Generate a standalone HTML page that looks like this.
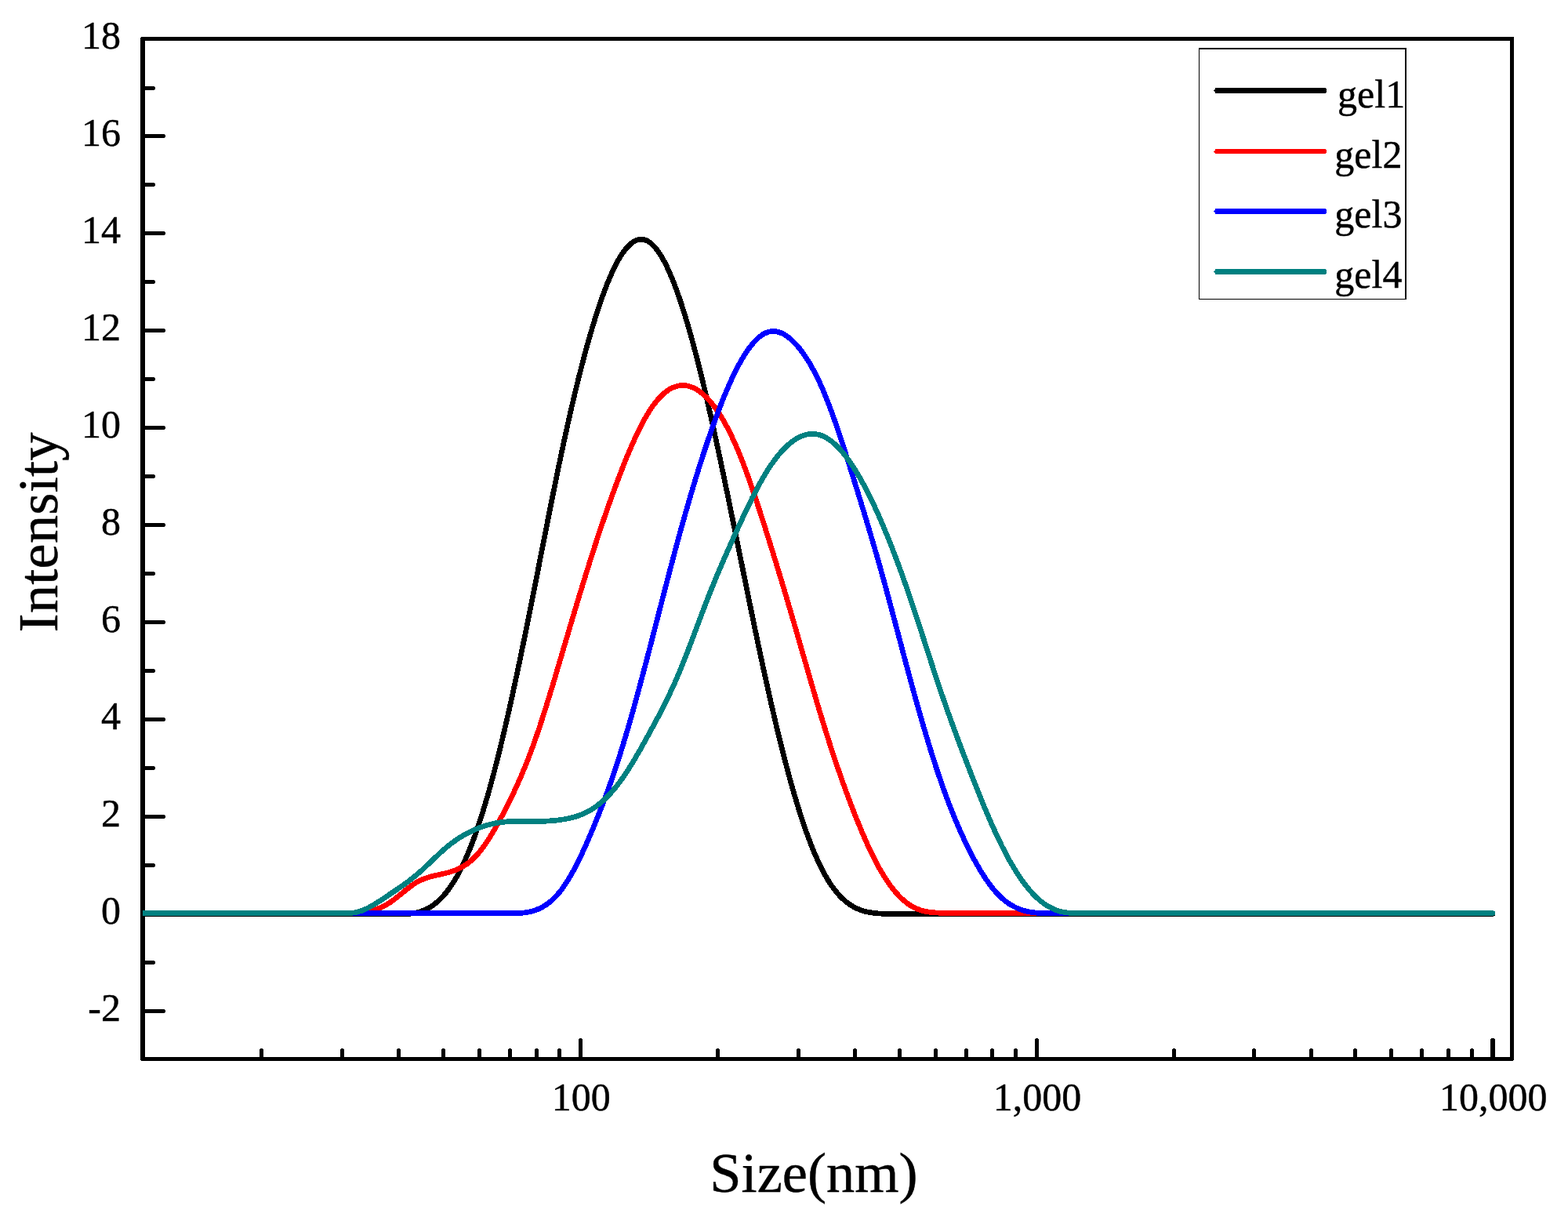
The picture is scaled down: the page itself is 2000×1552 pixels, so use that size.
<!DOCTYPE html>
<html lang="en"><head><meta charset="utf-8"><title>Size distribution by intensity</title>
<style>
html,body{margin:0;padding:0;background:#fff;}
body{width:2000px;height:1552px;overflow:hidden;}
svg{display:block;}
text{font-family:"Liberation Serif",serif;fill:#000;stroke:#000;stroke-width:0.45px;stroke-linejoin:round;}
.t{font-size:50px;}
.ttl{font-size:72.4px;}
</style></head><body>
<svg width="2000" height="1552" viewBox="0 0 2000 1552">
<rect x="0" y="0" width="2000" height="1552" fill="#fff"/>
<defs><clipPath id="plot"><rect x="182.0" y="47" width="1749.0" height="1306"/></clipPath></defs>
<g fill="#000" shape-rendering="crispEdges">
<path fill-rule="evenodd" d="M179 48H180V47H1931V1352H1930V1353H180V1352H179ZM185 52V1348H1926V52Z"/>
<path d="M184 1287H210V1288H211V1291H210V1292H184ZM184 1225H197V1226H198V1229H197V1230H184ZM184 1163H210V1164H211V1167H210V1168H184ZM184 1101H197V1102H198V1105H197V1106H184ZM184 1039H210V1040H211V1043H210V1044H184ZM184 977H197V978H198V981H197V982H184ZM184 915H210V916H211V919H210V920H184ZM184 853H197V854H198V857H197V858H184ZM184 791H210V792H211V795H210V796H184ZM184 729H197V730H198V733H197V734H184ZM184 667H210V668H211V671H210V672H184ZM184 605H197V606H198V609H197V610H184ZM184 543H210V544H211V547H210V548H184ZM184 481H197V482H198V485H197V486H184ZM184 419H210V420H211V423H210V424H184ZM184 357H197V358H198V361H197V362H184ZM184 295H210V296H211V299H210V300H184ZM184 233H197V234H198V237H197V238H184ZM184 171H210V172H211V175H210V176H184ZM184 110H197V111H198V114H197V115H184ZM331 1349V1338H332V1337H335V1338H336V1349ZM434 1349V1338H435V1337H438V1338H439V1349ZM506 1349V1338H507V1337H510V1338H511V1349ZM563 1349V1338H564V1337H567V1338H568V1349ZM609 1349V1338H610V1337H613V1338H614V1349ZM648 1349V1338H649V1337H652V1338H653V1349ZM682 1349V1338H683V1337H686V1338H687V1349ZM711 1349V1338H712V1337H715V1338H716V1349ZM738 1349V1325H739V1324H742V1325H743V1349ZM913 1349V1338H914V1337H917V1338H918V1349ZM1016 1349V1338H1017V1337H1020V1338H1021V1349ZM1088 1349V1338H1089V1337H1092V1338H1093V1349ZM1145 1349V1338H1146V1337H1149V1338H1150V1349ZM1191 1349V1338H1192V1337H1195V1338H1196V1349ZM1230 1349V1338H1231V1337H1234V1338H1235V1349ZM1263 1349V1338H1264V1337H1267V1338H1268V1349ZM1293 1349V1338H1294V1337H1297V1338H1298V1349ZM1320 1349V1325H1321V1324H1324V1325H1325V1349ZM1495 1349V1338H1496V1337H1499V1338H1500V1349ZM1597 1349V1338H1598V1337H1601V1338H1602V1349ZM1670 1349V1338H1671V1337H1674V1338H1675V1349ZM1726 1349V1338H1727V1337H1730V1338H1731V1349ZM1772 1349V1338H1773V1337H1776V1338H1777V1349ZM1811 1349V1338H1812V1337H1815V1338H1816V1349ZM1845 1349V1338H1846V1337H1849V1338H1850V1349ZM1875 1349V1338H1876V1337H1879V1338H1880V1349ZM1901 1349V1325H1902V1324H1906V1325H1907V1349Z"/>
</g>
<g fill="none" stroke-linejoin="round" stroke-linecap="round" shape-rendering="crispEdges" clip-path="url(#plot)">
<path d="M174 1165.5H423L423 1165.5L424 1165.4L425 1165.4L426 1165.4L427 1165.4L428 1165.4L429 1165.4L430 1165.4L431 1165.4L432 1165.4L433 1165.4L434 1165.4L435 1165.5L436 1165.5L437 1165.5L438 1165.5L439 1165.5L440 1165.5L441 1165.5L442 1165.5L443 1165.5L444 1165.5L445 1165.5L446 1165.5L447 1165.5L448 1165.5L449 1165.5L450 1165.5L451 1165.5L452 1165.5L453 1165.5L454 1165.5L455 1165.5L456 1165.5L457 1165.5L458 1165.5L459 1165.5L460 1165.5L461 1165.5L462 1165.5L463 1165.5L464 1165.5L465 1165.5L466 1165.5L467 1165.5L468 1165.5L469 1165.5L470 1165.5L471 1165.5L472 1165.5L473 1165.4L474 1165.4L475 1165.4L476 1165.4L477 1165.4L478 1165.4L479 1165.4L480 1165.4L481 1165.3L482 1165.3L483 1165.3L484 1165.3L485 1165.3L486 1165.3L487 1165.3L488 1165.3L489 1165.3L490 1165.3L491 1165.4L492 1165.4L493 1165.4L494 1165.4L495 1165.4L496 1165.5L497 1165.5L498 1165.5L499 1165.5L500 1165.5L501 1165.5L502 1165.5L503 1165.5L504 1165.5L505 1165.5L506 1165.5L507 1165.5L508 1165.5L509 1165.5L510 1165.5L511 1165.5L512 1165.5L513 1165.5L514 1165.5L515 1165.5L516 1165.5L517 1165.5L518 1165.5L519 1165.5L520 1165.5L521 1165.5L522 1165.4L523 1165.3L524 1165.1L525 1165.0L526 1164.9L527 1164.7L528 1164.5L529 1164.4L530 1164.2L531 1163.9L532 1163.7L533 1163.5L534 1163.2L535 1162.9L536 1162.6L537 1162.3L538 1161.9L539 1161.5L540 1161.1L541 1160.7L542 1160.3L543 1159.8L544 1159.4L545 1158.9L546 1158.3L547 1157.8L548 1157.2L549 1156.6L550 1156.0L551 1155.3L552 1154.6L553 1153.9L554 1153.2L555 1152.4L556 1151.6L557 1150.8L558 1149.9L559 1149.0L560 1148.1L561 1147.1L562 1146.2L563 1145.1L564 1144.1L565 1143.0L566 1141.9L567 1140.7L568 1139.5L569 1138.3L570 1137.0L571 1135.7L572 1134.4L573 1133.0L574 1131.6L575 1130.2L576 1128.7L577 1127.2L578 1125.6L579 1124.0L580 1122.3L581 1120.7L582 1118.9L583 1117.2L584 1115.4L585 1113.5L586 1111.6L587 1109.7L588 1107.7L589 1105.7L590 1103.7L591 1101.6L592 1099.5L593 1097.3L594 1095.1L595 1092.8L596 1090.5L597 1088.1L598 1085.7L599 1083.3L600 1080.8L601 1078.3L602 1075.7L603 1073.1L604 1070.4L605 1067.7L606 1064.9L607 1062.1L608 1059.2L609 1056.3L610 1053.4L611 1050.4L612 1047.3L613 1044.3L614 1041.1L615 1038.0L616 1034.7L617 1031.5L618 1028.2L619 1024.8L620 1021.5L621 1018.0L622 1014.6L623 1011.1L624 1007.5L625 1003.9L626 1000.3L627 996.6L628 992.9L629 989.2L630 985.4L631 981.6L632 977.7L633 973.8L634 969.9L635 965.9L636 961.9L637 957.9L638 953.8L639 949.7L640 945.6L641 941.4L642 937.2L643 933.0L644 928.7L645 924.4L646 920.1L647 915.7L648 911.3L649 906.9L650 902.5L651 898.0L652 893.5L653 889.0L654 884.4L655 879.8L656 875.2L657 870.6L658 865.9L659 861.2L660 856.5L661 851.8L662 847.0L663 842.3L664 837.5L665 832.7L666 827.9L667 823.0L668 818.1L669 813.3L670 808.4L671 803.4L672 798.5L673 793.6L674 788.6L675 783.6L676 778.6L677 773.6L678 768.6L679 763.6L680 758.6L681 753.5L682 748.5L683 743.4L684 738.3L685 733.3L686 728.2L687 723.1L688 718.0L689 712.9L690 707.8L691 702.7L692 697.6L693 692.6L694 687.5L695 682.4L696 677.3L697 672.3L698 667.2L699 662.1L700 657.1L701 652.1L702 647.1L703 642.1L704 637.1L705 632.1L706 627.1L707 622.2L708 617.3L709 612.4L710 607.5L711 602.6L712 597.8L713 593.0L714 588.2L715 583.4L716 578.7L717 574.0L718 569.3L719 564.6L720 560.0L721 555.4L722 550.9L723 546.3L724 541.8L725 537.4L726 533.0L727 528.5L728 524.2L729 519.8L730 515.5L731 511.3L732 507.0L733 502.8L734 498.7L735 494.5L736 490.4L737 486.4L738 482.3L739 478.3L740 474.4L741 470.5L742 466.6L743 462.7L744 458.9L745 455.1L746 451.4L747 447.7L748 444.0L749 440.4L750 436.8L751 433.3L752 429.8L753 426.3L754 422.9L755 419.5L756 416.1L757 412.8L758 409.6L759 406.3L760 403.1L761 400.0L762 396.9L763 393.8L764 390.8L765 387.9L766 384.9L767 382.1L768 379.2L769 376.5L770 373.7L771 371.0L772 368.4L773 365.8L774 363.2L775 360.7L776 358.3L777 355.9L778 353.5L779 351.2L780 349.0L781 346.8L782 344.6L783 342.5L784 340.5L785 338.5L786 336.6L787 334.7L788 332.9L789 331.1L790 329.4L791 327.7L792 326.1L793 324.6L794 323.1L795 321.7L796 320.3L797 319.0L798 317.7L799 316.5L800 315.4L801 314.3L802 313.3L803 312.3L804 311.4L805 310.6L806 309.8L807 309.1L808 308.4L809 307.8L810 307.3L811 306.8L812 306.4L813 306.0L814 305.8L815 305.5L816 305.4L817 305.3L818 305.3L819 305.3L820 305.4L821 305.6L822 305.8L823 306.1L824 306.5L825 306.9L826 307.4L827 308.0L828 308.6L829 309.3L830 310.1L831 310.9L832 311.8L833 312.8L834 313.8L835 314.9L836 316.1L837 317.3L838 318.6L839 319.9L840 321.4L841 322.8L842 324.4L843 326.0L844 327.6L845 329.4L846 331.2L847 333.0L848 334.9L849 336.9L850 338.9L851 341.0L852 343.1L853 345.3L854 347.5L855 349.8L856 352.2L857 354.6L858 357.0L859 359.5L860 362.1L861 364.7L862 367.4L863 370.1L864 372.9L865 375.7L866 378.6L867 381.5L868 384.5L869 387.5L870 390.6L871 393.7L872 396.9L873 400.1L874 403.3L875 406.6L876 409.9L877 413.3L878 416.8L879 420.2L880 423.7L881 427.3L882 430.9L883 434.5L884 438.2L885 441.9L886 445.7L887 449.5L888 453.3L889 457.2L890 461.1L891 465.0L892 469.0L893 473.0L894 477.0L895 481.1L896 485.2L897 489.4L898 493.6L899 497.8L900 502.0L901 506.3L902 510.6L903 514.9L904 519.3L905 523.7L906 528.1L907 532.5L908 537.0L909 541.5L910 546.0L911 550.6L912 555.1L913 559.7L914 564.3L915 569.0L916 573.6L917 578.3L918 583.0L919 587.7L920 592.4L921 597.2L922 601.9L923 606.7L924 611.5L925 616.3L926 621.1L927 626.0L928 630.8L929 635.6L930 640.5L931 645.4L932 650.3L933 655.2L934 660.1L935 665.0L936 669.9L937 674.8L938 679.7L939 684.6L940 689.5L941 694.5L942 699.4L943 704.3L944 709.3L945 714.2L946 719.1L947 724.0L948 729.0L949 733.9L950 738.8L951 743.7L952 748.6L953 753.5L954 758.4L955 763.3L956 768.2L957 773.1L958 777.9L959 782.8L960 787.6L961 792.4L962 797.3L963 802.1L964 806.8L965 811.6L966 816.4L967 821.1L968 825.9L969 830.6L970 835.3L971 839.9L972 844.6L973 849.2L974 853.8L975 858.4L976 863.0L977 867.6L978 872.1L979 876.6L980 881.1L981 885.5L982 890.0L983 894.4L984 898.8L985 903.1L986 907.4L987 911.7L988 916.0L989 920.3L990 924.5L991 928.7L992 932.8L993 937.0L994 941.1L995 945.1L996 949.2L997 953.2L998 957.1L999 961.1L1000 965.0L1001 968.9L1002 972.7L1003 976.5L1004 980.3L1005 984.0L1006 987.8L1007 991.4L1008 995.1L1009 998.7L1010 1002.2L1011 1005.7L1012 1009.2L1013 1012.7L1014 1016.1L1015 1019.4L1016 1022.8L1017 1026.1L1018 1029.3L1019 1032.5L1020 1035.7L1021 1038.8L1022 1041.9L1023 1045.0L1024 1048.0L1025 1051.0L1026 1053.9L1027 1056.8L1028 1059.6L1029 1062.4L1030 1065.2L1031 1067.9L1032 1070.6L1033 1073.2L1034 1075.8L1035 1078.4L1036 1080.9L1037 1083.4L1038 1085.8L1039 1088.2L1040 1090.5L1041 1092.8L1042 1095.1L1043 1097.3L1044 1099.5L1045 1101.6L1046 1103.7L1047 1105.8L1048 1107.8L1049 1109.7L1050 1111.6L1051 1113.5L1052 1115.3L1053 1117.1L1054 1118.8L1055 1120.5L1056 1122.2L1057 1123.8L1058 1125.4L1059 1126.9L1060 1128.4L1061 1129.8L1062 1131.2L1063 1132.6L1064 1133.9L1065 1135.2L1066 1136.5L1067 1137.7L1068 1138.9L1069 1140.1L1070 1141.2L1071 1142.3L1072 1143.3L1073 1144.3L1074 1145.3L1075 1146.3L1076 1147.2L1077 1148.1L1078 1149.0L1079 1149.8L1080 1150.6L1081 1151.4L1082 1152.1L1083 1152.8L1084 1153.5L1085 1154.2L1086 1154.8L1087 1155.4L1088 1156.0L1089 1156.6L1090 1157.1L1091 1157.6L1092 1158.1L1093 1158.6L1094 1159.0L1095 1159.4L1096 1159.8L1097 1160.2L1098 1160.6L1099 1160.9L1100 1161.3L1101 1161.6L1102 1161.9L1103 1162.2L1104 1162.4L1105 1162.7L1106 1162.9L1107 1163.1L1108 1163.3L1109 1163.5L1110 1163.7L1111 1163.8L1112 1164.0L1113 1164.1L1114 1164.3L1115 1164.4L1116 1164.5L1117 1164.6L1118 1164.7L1119 1164.8L1120 1164.9L1121 1164.9L1122 1165.0L1123 1165.0L1124 1165.1L1125 1165.2L1126 1165.2L1127 1165.2L1128 1165.3L1129 1165.3L1130 1165.4L1131 1165.4L1132 1165.4L1133 1165.4L1134 1165.5H1903.7" stroke="#000" stroke-width="6.7"/>
<path d="M174 1164.5H402L402 1164.5L403 1164.4L404 1164.4L405 1164.4L406 1164.4L407 1164.4L408 1164.4L409 1164.4L410 1164.4L411 1164.4L412 1164.4L413 1164.4L414 1164.4L415 1164.4L416 1164.4L417 1164.4L418 1164.4L419 1164.4L420 1164.5L421 1164.5L422 1164.5L423 1164.5L424 1164.5L425 1164.5L426 1164.5L427 1164.5L428 1164.5L429 1164.5L430 1164.5L431 1164.5L432 1164.5L433 1164.5L434 1164.5L435 1164.5L436 1164.5L437 1164.5L438 1164.5L439 1164.5L440 1164.5L441 1164.5L442 1164.5L443 1164.5L444 1164.5L445 1164.5L446 1164.5L447 1164.5L448 1164.5L449 1164.4L450 1164.4L451 1164.3L452 1164.3L453 1164.2L454 1164.2L455 1164.1L456 1164.0L457 1164.0L458 1163.9L459 1163.8L460 1163.7L461 1163.6L462 1163.5L463 1163.3L464 1163.2L465 1163.1L466 1162.9L467 1162.8L468 1162.6L469 1162.4L470 1162.2L471 1162.0L472 1161.8L473 1161.6L474 1161.3L475 1161.1L476 1160.8L477 1160.5L478 1160.2L479 1159.9L480 1159.6L481 1159.2L482 1158.9L483 1158.5L484 1158.1L485 1157.7L486 1157.3L487 1156.8L488 1156.3L489 1155.8L490 1155.3L491 1154.8L492 1154.3L493 1153.7L494 1153.1L495 1152.5L496 1151.9L497 1151.2L498 1150.5L499 1149.8L500 1149.1L501 1148.4L502 1147.7L503 1146.9L504 1146.1L505 1145.4L506 1144.6L507 1143.8L508 1143.0L509 1142.2L510 1141.4L511 1140.5L512 1139.7L513 1138.9L514 1138.1L515 1137.3L516 1136.5L517 1135.6L518 1134.8L519 1134.0L520 1133.3L521 1132.5L522 1131.7L523 1131.0L524 1130.2L525 1129.5L526 1128.8L527 1128.1L528 1127.4L529 1126.8L530 1126.1L531 1125.5L532 1124.9L533 1124.4L534 1123.8L535 1123.3L536 1122.8L537 1122.3L538 1121.9L539 1121.5L540 1121.1L541 1120.7L542 1120.3L543 1119.9L544 1119.6L545 1119.2L546 1118.9L547 1118.6L548 1118.3L549 1118.0L550 1117.8L551 1117.5L552 1117.3L553 1117.0L554 1116.8L555 1116.5L556 1116.3L557 1116.1L558 1115.9L559 1115.6L560 1115.4L561 1115.2L562 1115.0L563 1114.8L564 1114.5L565 1114.3L566 1114.1L567 1113.9L568 1113.6L569 1113.4L570 1113.1L571 1112.9L572 1112.6L573 1112.3L574 1112.0L575 1111.7L576 1111.4L577 1111.1L578 1110.7L579 1110.4L580 1110.0L581 1109.6L582 1109.2L583 1108.8L584 1108.4L585 1107.9L586 1107.4L587 1106.9L588 1106.4L589 1105.9L590 1105.3L591 1104.7L592 1104.1L593 1103.5L594 1102.8L595 1102.2L596 1101.5L597 1100.7L598 1100.0L599 1099.2L600 1098.3L601 1097.5L602 1096.6L603 1095.7L604 1094.7L605 1093.7L606 1092.7L607 1091.7L608 1090.6L609 1089.5L610 1088.3L611 1087.1L612 1085.9L613 1084.6L614 1083.4L615 1082.0L616 1080.7L617 1079.3L618 1077.9L619 1076.5L620 1075.0L621 1073.6L622 1072.0L623 1070.5L624 1068.9L625 1067.4L626 1065.7L627 1064.1L628 1062.5L629 1060.8L630 1059.1L631 1057.4L632 1055.6L633 1053.9L634 1052.1L635 1050.3L636 1048.5L637 1046.7L638 1044.8L639 1042.9L640 1041.1L641 1039.2L642 1037.3L643 1035.3L644 1033.4L645 1031.5L646 1029.5L647 1027.5L648 1025.5L649 1023.5L650 1021.5L651 1019.5L652 1017.4L653 1015.3L654 1013.3L655 1011.1L656 1009.0L657 1006.9L658 1004.7L659 1002.5L660 1000.3L661 998.1L662 995.8L663 993.5L664 991.2L665 988.9L666 986.6L667 984.2L668 981.8L669 979.4L670 976.9L671 974.4L672 971.9L673 969.4L674 966.8L675 964.2L676 961.6L677 959.0L678 956.3L679 953.6L680 950.8L681 948.0L682 945.2L683 942.4L684 939.5L685 936.6L686 933.6L687 930.7L688 927.7L689 924.7L690 921.6L691 918.5L692 915.5L693 912.3L694 909.2L695 906.1L696 902.9L697 899.7L698 896.5L699 893.2L700 890.0L701 886.7L702 883.5L703 880.2L704 876.9L705 873.6L706 870.2L707 866.9L708 863.6L709 860.2L710 856.9L711 853.5L712 850.1L713 846.7L714 843.4L715 840.0L716 836.6L717 833.2L718 829.8L719 826.5L720 823.1L721 819.7L722 816.3L723 813.0L724 809.6L725 806.2L726 802.8L727 799.5L728 796.1L729 792.8L730 789.4L731 786.1L732 782.7L733 779.4L734 776.1L735 772.7L736 769.4L737 766.1L738 762.8L739 759.5L740 756.2L741 752.9L742 749.7L743 746.4L744 743.1L745 739.9L746 736.6L747 733.4L748 730.2L749 727.0L750 723.8L751 720.6L752 717.4L753 714.3L754 711.1L755 708.0L756 704.9L757 701.8L758 698.7L759 695.6L760 692.5L761 689.4L762 686.4L763 683.4L764 680.4L765 677.4L766 674.4L767 671.4L768 668.4L769 665.5L770 662.5L771 659.6L772 656.7L773 653.8L774 651.0L775 648.1L776 645.3L777 642.4L778 639.6L779 636.8L780 634.0L781 631.3L782 628.5L783 625.8L784 623.1L785 620.3L786 617.7L787 615.0L788 612.3L789 609.7L790 607.1L791 604.5L792 601.9L793 599.3L794 596.7L795 594.2L796 591.7L797 589.2L798 586.7L799 584.2L800 581.8L801 579.4L802 577.0L803 574.6L804 572.3L805 570.0L806 567.7L807 565.4L808 563.2L809 560.9L810 558.7L811 556.6L812 554.4L813 552.3L814 550.3L815 548.2L816 546.2L817 544.2L818 542.3L819 540.3L820 538.5L821 536.6L822 534.8L823 533.0L824 531.3L825 529.6L826 527.9L827 526.2L828 524.6L829 523.1L830 521.6L831 520.1L832 518.6L833 517.2L834 515.9L835 514.6L836 513.3L837 512.0L838 510.8L839 509.6L840 508.5L841 507.4L842 506.3L843 505.3L844 504.3L845 503.4L846 502.5L847 501.6L848 500.8L849 500.0L850 499.2L851 498.5L852 497.8L853 497.1L854 496.5L855 495.9L856 495.4L857 494.9L858 494.4L859 494.0L860 493.6L861 493.2L862 492.9L863 492.6L864 492.3L865 492.1L866 491.9L867 491.8L868 491.6L869 491.6L870 491.5L871 491.5L872 491.5L873 491.6L874 491.7L875 491.8L876 491.9L877 492.1L878 492.3L879 492.6L880 492.9L881 493.2L882 493.6L883 494.0L884 494.4L885 494.9L886 495.4L887 495.9L888 496.4L889 497.0L890 497.7L891 498.3L892 499.0L893 499.7L894 500.5L895 501.3L896 502.1L897 503.0L898 503.9L899 504.8L900 505.7L901 506.7L902 507.7L903 508.8L904 509.9L905 511.0L906 512.1L907 513.3L908 514.5L909 515.8L910 517.1L911 518.4L912 519.7L913 521.1L914 522.5L915 523.9L916 525.4L917 526.9L918 528.5L919 530.1L920 531.7L921 533.3L922 535.0L923 536.7L924 538.5L925 540.3L926 542.1L927 543.9L928 545.8L929 547.8L930 549.7L931 551.7L932 553.8L933 555.8L934 557.9L935 560.1L936 562.2L937 564.5L938 566.7L939 569.0L940 571.3L941 573.7L942 576.1L943 578.5L944 581.0L945 583.5L946 586.0L947 588.6L948 591.2L949 593.8L950 596.5L951 599.1L952 601.9L953 604.6L954 607.4L955 610.2L956 613.0L957 615.8L958 618.7L959 621.6L960 624.5L961 627.4L962 630.4L963 633.3L964 636.3L965 639.3L966 642.3L967 645.4L968 648.4L969 651.5L970 654.6L971 657.7L972 660.8L973 663.9L974 667.1L975 670.2L976 673.4L977 676.5L978 679.7L979 682.9L980 686.1L981 689.3L982 692.5L983 695.7L984 698.9L985 702.1L986 705.3L987 708.6L988 711.8L989 715.1L990 718.3L991 721.6L992 724.9L993 728.2L994 731.5L995 734.8L996 738.1L997 741.4L998 744.7L999 748.0L1000 751.4L1001 754.7L1002 758.1L1003 761.4L1004 764.8L1005 768.2L1006 771.5L1007 774.9L1008 778.3L1009 781.7L1010 785.1L1011 788.5L1012 792.0L1013 795.4L1014 798.8L1015 802.3L1016 805.7L1017 809.2L1018 812.7L1019 816.1L1020 819.6L1021 823.1L1022 826.5L1023 830.0L1024 833.5L1025 837.0L1026 840.4L1027 843.9L1028 847.4L1029 850.9L1030 854.3L1031 857.8L1032 861.3L1033 864.7L1034 868.2L1035 871.6L1036 875.0L1037 878.5L1038 881.9L1039 885.3L1040 888.7L1041 892.1L1042 895.5L1043 898.8L1044 902.2L1045 905.5L1046 908.9L1047 912.2L1048 915.5L1049 918.7L1050 922.0L1051 925.2L1052 928.5L1053 931.7L1054 934.9L1055 938.0L1056 941.2L1057 944.3L1058 947.5L1059 950.6L1060 953.6L1061 956.7L1062 959.7L1063 962.8L1064 965.8L1065 968.8L1066 971.7L1067 974.7L1068 977.6L1069 980.6L1070 983.5L1071 986.3L1072 989.2L1073 992.1L1074 994.9L1075 997.7L1076 1000.5L1077 1003.3L1078 1006.0L1079 1008.8L1080 1011.5L1081 1014.2L1082 1016.9L1083 1019.6L1084 1022.2L1085 1024.9L1086 1027.5L1087 1030.1L1088 1032.7L1089 1035.2L1090 1037.8L1091 1040.3L1092 1042.8L1093 1045.3L1094 1047.8L1095 1050.2L1096 1052.7L1097 1055.1L1098 1057.5L1099 1059.9L1100 1062.2L1101 1064.5L1102 1066.9L1103 1069.1L1104 1071.4L1105 1073.6L1106 1075.9L1107 1078.1L1108 1080.2L1109 1082.4L1110 1084.5L1111 1086.6L1112 1088.7L1113 1090.7L1114 1092.7L1115 1094.7L1116 1096.7L1117 1098.6L1118 1100.5L1119 1102.4L1120 1104.2L1121 1106.1L1122 1107.9L1123 1109.6L1124 1111.3L1125 1113.0L1126 1114.7L1127 1116.4L1128 1118.0L1129 1119.6L1130 1121.1L1131 1122.6L1132 1124.1L1133 1125.6L1134 1127.0L1135 1128.4L1136 1129.8L1137 1131.1L1138 1132.4L1139 1133.7L1140 1134.9L1141 1136.2L1142 1137.3L1143 1138.5L1144 1139.6L1145 1140.7L1146 1141.8L1147 1142.9L1148 1143.9L1149 1144.9L1150 1145.8L1151 1146.7L1152 1147.6L1153 1148.5L1154 1149.4L1155 1150.2L1156 1151.0L1157 1151.7L1158 1152.5L1159 1153.2L1160 1153.8L1161 1154.5L1162 1155.1L1163 1155.7L1164 1156.3L1165 1156.8L1166 1157.3L1167 1157.8L1168 1158.3L1169 1158.7L1170 1159.1L1171 1159.5L1172 1159.9L1173 1160.3L1174 1160.6L1175 1160.9L1176 1161.2L1177 1161.5L1178 1161.7L1179 1162.0L1180 1162.2L1181 1162.4L1182 1162.6L1183 1162.8L1184 1162.9L1185 1163.1L1186 1163.2L1187 1163.4L1188 1163.5L1189 1163.6L1190 1163.7L1191 1163.8L1192 1163.8L1193 1163.9L1194 1164.0L1195 1164.0L1196 1164.1L1197 1164.1L1198 1164.2L1199 1164.2L1200 1164.3L1201 1164.3L1202 1164.3L1203 1164.4L1204 1164.4L1205 1164.4L1206 1164.4L1207 1164.4L1208 1164.5H1903.7" stroke="#f00" stroke-width="6.7"/>
<path d="M174 1164.5H623L623 1164.5L624 1164.4L625 1164.4L626 1164.4L627 1164.4L628 1164.4L629 1164.4L630 1164.4L631 1164.4L632 1164.4L633 1164.4L634 1164.4L635 1164.4L636 1164.4L637 1164.5L638 1164.5L639 1164.5L640 1164.5L641 1164.5L642 1164.5L643 1164.5L644 1164.5L645 1164.5L646 1164.5L647 1164.5L648 1164.5L649 1164.5L650 1164.5L651 1164.5L652 1164.5L653 1164.5L654 1164.5L655 1164.5L656 1164.5L657 1164.5L658 1164.5L659 1164.5L660 1164.5L661 1164.5L662 1164.5L663 1164.4L664 1164.3L665 1164.3L666 1164.2L667 1164.1L668 1164.0L669 1163.9L670 1163.7L671 1163.6L672 1163.4L673 1163.3L674 1163.1L675 1162.9L676 1162.7L677 1162.4L678 1162.2L679 1161.9L680 1161.6L681 1161.3L682 1161.0L683 1160.6L684 1160.3L685 1159.9L686 1159.5L687 1159.1L688 1158.6L689 1158.1L690 1157.7L691 1157.1L692 1156.6L693 1156.0L694 1155.4L695 1154.8L696 1154.2L697 1153.5L698 1152.8L699 1152.1L700 1151.3L701 1150.5L702 1149.7L703 1148.8L704 1148.0L705 1147.1L706 1146.1L707 1145.1L708 1144.1L709 1143.1L710 1142.0L711 1140.9L712 1139.7L713 1138.6L714 1137.3L715 1136.1L716 1134.8L717 1133.5L718 1132.1L719 1130.7L720 1129.2L721 1127.7L722 1126.2L723 1124.7L724 1123.1L725 1121.4L726 1119.8L727 1118.1L728 1116.4L729 1114.6L730 1112.8L731 1111.0L732 1109.1L733 1107.3L734 1105.3L735 1103.4L736 1101.4L737 1099.4L738 1097.4L739 1095.4L740 1093.3L741 1091.2L742 1089.1L743 1087.0L744 1084.8L745 1082.6L746 1080.4L747 1078.2L748 1075.9L749 1073.7L750 1071.4L751 1069.1L752 1066.8L753 1064.5L754 1062.1L755 1059.7L756 1057.4L757 1055.0L758 1052.6L759 1050.1L760 1047.7L761 1045.2L762 1042.8L763 1040.3L764 1037.8L765 1035.2L766 1032.7L767 1030.1L768 1027.5L769 1024.9L770 1022.3L771 1019.6L772 1017.0L773 1014.3L774 1011.6L775 1008.8L776 1006.1L777 1003.3L778 1000.5L779 997.6L780 994.8L781 991.9L782 989.0L783 986.1L784 983.1L785 980.1L786 977.1L787 974.1L788 971.0L789 967.9L790 964.8L791 961.7L792 958.5L793 955.3L794 952.0L795 948.8L796 945.5L797 942.2L798 938.8L799 935.4L800 932.0L801 928.6L802 925.2L803 921.7L804 918.2L805 914.7L806 911.2L807 907.6L808 904.1L809 900.5L810 896.9L811 893.2L812 889.6L813 885.9L814 882.3L815 878.6L816 874.9L817 871.1L818 867.4L819 863.6L820 859.9L821 856.1L822 852.3L823 848.5L824 844.7L825 840.9L826 837.1L827 833.3L828 829.4L829 825.6L830 821.7L831 817.9L832 814.0L833 810.1L834 806.3L835 802.4L836 798.5L837 794.7L838 790.8L839 786.9L840 783.0L841 779.1L842 775.3L843 771.4L844 767.5L845 763.6L846 759.8L847 755.9L848 752.1L849 748.2L850 744.4L851 740.5L852 736.7L853 732.9L854 729.1L855 725.3L856 721.5L857 717.7L858 713.9L859 710.2L860 706.4L861 702.7L862 699.0L863 695.2L864 691.6L865 687.9L866 684.2L867 680.6L868 676.9L869 673.3L870 669.7L871 666.2L872 662.6L873 659.1L874 655.5L875 652.0L876 648.6L877 645.1L878 641.6L879 638.2L880 634.8L881 631.4L882 628.0L883 624.6L884 621.3L885 618.0L886 614.7L887 611.4L888 608.1L889 604.9L890 601.6L891 598.4L892 595.3L893 592.1L894 588.9L895 585.8L896 582.7L897 579.6L898 576.5L899 573.5L900 570.5L901 567.5L902 564.5L903 561.5L904 558.6L905 555.7L906 552.8L907 549.9L908 547.0L909 544.2L910 541.4L911 538.6L912 535.9L913 533.1L914 530.4L915 527.8L916 525.1L917 522.5L918 519.9L919 517.3L920 514.7L921 512.2L922 509.7L923 507.2L924 504.8L925 502.4L926 500.0L927 497.6L928 495.3L929 493.0L930 490.7L931 488.5L932 486.3L933 484.1L934 481.9L935 479.8L936 477.8L937 475.7L938 473.7L939 471.7L940 469.7L941 467.8L942 465.9L943 464.1L944 462.3L945 460.5L946 458.8L947 457.1L948 455.4L949 453.7L950 452.2L951 450.6L952 449.1L953 447.6L954 446.1L955 444.7L956 443.4L957 442.0L958 440.8L959 439.5L960 438.3L961 437.1L962 436.0L963 434.9L964 433.9L965 432.9L966 431.9L967 431.0L968 430.2L969 429.4L970 428.6L971 427.9L972 427.2L973 426.5L974 425.9L975 425.4L976 424.9L977 424.5L978 424.1L979 423.7L980 423.4L981 423.1L982 422.9L983 422.7L984 422.6L985 422.5L986 422.5L987 422.5L988 422.6L989 422.7L990 422.8L991 423.0L992 423.2L993 423.5L994 423.8L995 424.1L996 424.5L997 424.9L998 425.4L999 425.9L1000 426.5L1001 427.0L1002 427.7L1003 428.3L1004 429.0L1005 429.7L1006 430.5L1007 431.3L1008 432.1L1009 433.0L1010 433.9L1011 434.8L1012 435.8L1013 436.8L1014 437.8L1015 438.9L1016 440.0L1017 441.1L1018 442.3L1019 443.5L1020 444.7L1021 446.0L1022 447.3L1023 448.6L1024 450.0L1025 451.4L1026 452.8L1027 454.3L1028 455.8L1029 457.3L1030 458.9L1031 460.5L1032 462.1L1033 463.8L1034 465.5L1035 467.3L1036 469.1L1037 470.9L1038 472.8L1039 474.7L1040 476.6L1041 478.6L1042 480.6L1043 482.6L1044 484.7L1045 486.9L1046 489.0L1047 491.2L1048 493.5L1049 495.8L1050 498.1L1051 500.5L1052 502.9L1053 505.3L1054 507.8L1055 510.3L1056 512.9L1057 515.5L1058 518.1L1059 520.8L1060 523.5L1061 526.2L1062 529.0L1063 531.7L1064 534.6L1065 537.4L1066 540.3L1067 543.2L1068 546.1L1069 549.0L1070 552.0L1071 555.0L1072 558.0L1073 561.0L1074 564.1L1075 567.1L1076 570.2L1077 573.3L1078 576.4L1079 579.5L1080 582.7L1081 585.8L1082 589.0L1083 592.1L1084 595.3L1085 598.5L1086 601.7L1087 604.9L1088 608.1L1089 611.3L1090 614.5L1091 617.7L1092 620.9L1093 624.2L1094 627.4L1095 630.6L1096 633.9L1097 637.1L1098 640.4L1099 643.6L1100 646.9L1101 650.2L1102 653.4L1103 656.7L1104 660.0L1105 663.3L1106 666.7L1107 670.0L1108 673.3L1109 676.7L1110 680.0L1111 683.4L1112 686.8L1113 690.2L1114 693.6L1115 697.0L1116 700.5L1117 703.9L1118 707.4L1119 710.9L1120 714.4L1121 717.9L1122 721.4L1123 724.9L1124 728.5L1125 732.1L1126 735.7L1127 739.3L1128 742.9L1129 746.5L1130 750.2L1131 753.9L1132 757.6L1133 761.3L1134 765.0L1135 768.7L1136 772.4L1137 776.1L1138 779.9L1139 783.6L1140 787.4L1141 791.1L1142 794.9L1143 798.7L1144 802.4L1145 806.2L1146 810.0L1147 813.8L1148 817.5L1149 821.3L1150 825.1L1151 828.8L1152 832.6L1153 836.4L1154 840.1L1155 843.9L1156 847.6L1157 851.3L1158 855.0L1159 858.8L1160 862.5L1161 866.1L1162 869.8L1163 873.5L1164 877.1L1165 880.8L1166 884.4L1167 888.0L1168 891.6L1169 895.2L1170 898.7L1171 902.3L1172 905.8L1173 909.3L1174 912.8L1175 916.3L1176 919.7L1177 923.2L1178 926.6L1179 930.0L1180 933.4L1181 936.7L1182 940.1L1183 943.4L1184 946.7L1185 950.0L1186 953.2L1187 956.5L1188 959.7L1189 962.9L1190 966.0L1191 969.2L1192 972.3L1193 975.3L1194 978.4L1195 981.4L1196 984.5L1197 987.4L1198 990.4L1199 993.3L1200 996.2L1201 999.1L1202 1002.0L1203 1004.8L1204 1007.6L1205 1010.3L1206 1013.1L1207 1015.8L1208 1018.5L1209 1021.1L1210 1023.8L1211 1026.4L1212 1028.9L1213 1031.5L1214 1034.0L1215 1036.5L1216 1039.0L1217 1041.5L1218 1043.9L1219 1046.3L1220 1048.7L1221 1051.0L1222 1053.3L1223 1055.7L1224 1057.9L1225 1060.2L1226 1062.4L1227 1064.6L1228 1066.8L1229 1069.0L1230 1071.1L1231 1073.2L1232 1075.3L1233 1077.4L1234 1079.5L1235 1081.5L1236 1083.5L1237 1085.5L1238 1087.4L1239 1089.4L1240 1091.3L1241 1093.2L1242 1095.1L1243 1096.9L1244 1098.7L1245 1100.5L1246 1102.3L1247 1104.1L1248 1105.8L1249 1107.5L1250 1109.2L1251 1110.9L1252 1112.5L1253 1114.1L1254 1115.7L1255 1117.2L1256 1118.8L1257 1120.3L1258 1121.8L1259 1123.2L1260 1124.6L1261 1126.0L1262 1127.4L1263 1128.7L1264 1130.1L1265 1131.3L1266 1132.6L1267 1133.8L1268 1135.0L1269 1136.2L1270 1137.4L1271 1138.5L1272 1139.6L1273 1140.6L1274 1141.6L1275 1142.6L1276 1143.6L1277 1144.6L1278 1145.5L1279 1146.4L1280 1147.2L1281 1148.0L1282 1148.8L1283 1149.6L1284 1150.4L1285 1151.1L1286 1151.8L1287 1152.5L1288 1153.1L1289 1153.7L1290 1154.4L1291 1154.9L1292 1155.5L1293 1156.0L1294 1156.5L1295 1157.0L1296 1157.5L1297 1158.0L1298 1158.4L1299 1158.8L1300 1159.2L1301 1159.6L1302 1160.0L1303 1160.3L1304 1160.6L1305 1160.9L1306 1161.2L1307 1161.5L1308 1161.8L1309 1162.0L1310 1162.3L1311 1162.5L1312 1162.7L1313 1162.9L1314 1163.1L1315 1163.2L1316 1163.4L1317 1163.5L1318 1163.7L1319 1163.8L1320 1163.9L1321 1164.0L1322 1164.1L1323 1164.2L1324 1164.2L1325 1164.3L1326 1164.4L1327 1164.4L1328 1164.5L1329 1164.5L1330 1164.5L1331 1164.5L1332 1164.5L1333 1164.5L1334 1164.5L1335 1164.5L1336 1164.5L1337 1164.5L1338 1164.5L1339 1164.5L1340 1164.5L1341 1164.5L1342 1164.5L1343 1164.5L1344 1164.5L1345 1164.5L1346 1164.5L1347 1164.5L1348 1164.5L1349 1164.5L1350 1164.5L1351 1164.5L1352 1164.5L1353 1164.5L1354 1164.4L1355 1164.4L1356 1164.4L1357 1164.4L1358 1164.4L1359 1164.4L1360 1164.4L1361 1164.4L1362 1164.4L1363 1164.4L1364 1164.4L1365 1164.4L1366 1164.5H1903.7" stroke="#00f" stroke-width="6.7"/>
<path d="M174 1164.5H344L344 1164.5L345 1164.4L346 1164.4L347 1164.4L348 1164.4L349 1164.4L350 1164.4L351 1164.4L352 1164.4L353 1164.4L354 1164.4L355 1164.4L356 1164.4L357 1164.4L358 1164.4L359 1164.4L360 1164.4L361 1164.5L362 1164.5L363 1164.5L364 1164.5L365 1164.5L366 1164.5L367 1164.5L368 1164.5L369 1164.5L370 1164.5L371 1164.5L372 1164.5L373 1164.5L374 1164.5L375 1164.5L376 1164.5L377 1164.5L378 1164.5L379 1164.5L380 1164.5L381 1164.5L382 1164.5L383 1164.5L384 1164.5L385 1164.5L386 1164.5L387 1164.5L388 1164.5L389 1164.5L390 1164.5L391 1164.5L392 1164.5L393 1164.5L394 1164.5L395 1164.5L396 1164.5L397 1164.4L398 1164.4L399 1164.4L400 1164.4L401 1164.4L402 1164.3L403 1164.3L404 1164.3L405 1164.3L406 1164.3L407 1164.3L408 1164.2L409 1164.2L410 1164.2L411 1164.2L412 1164.2L413 1164.2L414 1164.2L415 1164.2L416 1164.2L417 1164.2L418 1164.3L419 1164.3L420 1164.3L421 1164.3L422 1164.4L423 1164.4L424 1164.4L425 1164.5L426 1164.5L427 1164.5L428 1164.5L429 1164.5L430 1164.5L431 1164.5L432 1164.5L433 1164.5L434 1164.5L435 1164.5L436 1164.5L437 1164.5L438 1164.5L439 1164.5L440 1164.5L441 1164.5L442 1164.5L443 1164.5L444 1164.5L445 1164.5L446 1164.5L447 1164.5L448 1164.4L449 1164.3L450 1164.2L451 1164.0L452 1163.9L453 1163.7L454 1163.5L455 1163.2L456 1163.0L457 1162.7L458 1162.4L459 1162.1L460 1161.8L461 1161.5L462 1161.1L463 1160.7L464 1160.3L465 1159.9L466 1159.4L467 1159.0L468 1158.5L469 1158.0L470 1157.5L471 1157.0L472 1156.5L473 1155.9L474 1155.4L475 1154.8L476 1154.2L477 1153.6L478 1153.0L479 1152.4L480 1151.8L481 1151.1L482 1150.5L483 1149.9L484 1149.2L485 1148.6L486 1147.9L487 1147.3L488 1146.6L489 1145.9L490 1145.2L491 1144.6L492 1143.9L493 1143.2L494 1142.6L495 1141.9L496 1141.2L497 1140.5L498 1139.9L499 1139.2L500 1138.5L501 1137.9L502 1137.2L503 1136.5L504 1135.8L505 1135.2L506 1134.5L507 1133.8L508 1133.1L509 1132.5L510 1131.8L511 1131.1L512 1130.4L513 1129.7L514 1129.0L515 1128.3L516 1127.5L517 1126.8L518 1126.1L519 1125.4L520 1124.6L521 1123.9L522 1123.1L523 1122.4L524 1121.6L525 1120.8L526 1120.0L527 1119.2L528 1118.4L529 1117.6L530 1116.8L531 1115.9L532 1115.1L533 1114.2L534 1113.3L535 1112.5L536 1111.6L537 1110.7L538 1109.8L539 1108.9L540 1107.9L541 1107.0L542 1106.1L543 1105.1L544 1104.2L545 1103.2L546 1102.3L547 1101.3L548 1100.4L549 1099.4L550 1098.5L551 1097.5L552 1096.5L553 1095.6L554 1094.6L555 1093.7L556 1092.7L557 1091.8L558 1090.9L559 1089.9L560 1089.0L561 1088.1L562 1087.2L563 1086.3L564 1085.4L565 1084.5L566 1083.6L567 1082.7L568 1081.9L569 1081.0L570 1080.2L571 1079.4L572 1078.6L573 1077.8L574 1077.0L575 1076.2L576 1075.4L577 1074.7L578 1074.0L579 1073.2L580 1072.5L581 1071.8L582 1071.1L583 1070.4L584 1069.8L585 1069.1L586 1068.5L587 1067.8L588 1067.2L589 1066.6L590 1066.0L591 1065.4L592 1064.8L593 1064.3L594 1063.7L595 1063.2L596 1062.6L597 1062.1L598 1061.6L599 1061.1L600 1060.6L601 1060.1L602 1059.6L603 1059.2L604 1058.7L605 1058.3L606 1057.8L607 1057.4L608 1057.0L609 1056.6L610 1056.2L611 1055.8L612 1055.4L613 1055.0L614 1054.7L615 1054.3L616 1054.0L617 1053.7L618 1053.3L619 1053.0L620 1052.7L621 1052.4L622 1052.1L623 1051.9L624 1051.6L625 1051.3L626 1051.1L627 1050.9L628 1050.6L629 1050.4L630 1050.2L631 1050.0L632 1049.8L633 1049.6L634 1049.4L635 1049.2L636 1049.1L637 1048.9L638 1048.8L639 1048.6L640 1048.5L641 1048.4L642 1048.3L643 1048.2L644 1048.1L645 1048.0L646 1047.9L647 1047.8L648 1047.7L649 1047.7L650 1047.6L651 1047.6L652 1047.5L653 1047.5L654 1047.5L655 1047.4L656 1047.4L657 1047.4L658 1047.4L659 1047.4L660 1047.4L661 1047.3L662 1047.3L663 1047.3L664 1047.3L665 1047.4L666 1047.4L667 1047.4L668 1047.4L669 1047.4L670 1047.4L671 1047.4L672 1047.4L673 1047.4L674 1047.5L675 1047.5L676 1047.5L677 1047.5L678 1047.5L679 1047.5L680 1047.5L681 1047.5L682 1047.5L683 1047.5L684 1047.5L685 1047.5L686 1047.5L687 1047.5L688 1047.4L689 1047.4L690 1047.4L691 1047.4L692 1047.3L693 1047.3L694 1047.3L695 1047.2L696 1047.2L697 1047.1L698 1047.1L699 1047.0L700 1047.0L701 1046.9L702 1046.8L703 1046.7L704 1046.7L705 1046.6L706 1046.5L707 1046.4L708 1046.3L709 1046.2L710 1046.1L711 1046.0L712 1045.9L713 1045.7L714 1045.6L715 1045.5L716 1045.3L717 1045.2L718 1045.0L719 1044.9L720 1044.7L721 1044.5L722 1044.3L723 1044.1L724 1043.9L725 1043.7L726 1043.5L727 1043.3L728 1043.1L729 1042.8L730 1042.6L731 1042.3L732 1042.0L733 1041.8L734 1041.5L735 1041.2L736 1040.8L737 1040.5L738 1040.2L739 1039.8L740 1039.4L741 1039.1L742 1038.7L743 1038.2L744 1037.8L745 1037.4L746 1036.9L747 1036.4L748 1035.9L749 1035.4L750 1034.9L751 1034.4L752 1033.8L753 1033.2L754 1032.6L755 1032.0L756 1031.4L757 1030.7L758 1030.0L759 1029.3L760 1028.6L761 1027.9L762 1027.1L763 1026.4L764 1025.6L765 1024.8L766 1023.9L767 1023.1L768 1022.2L769 1021.3L770 1020.4L771 1019.5L772 1018.5L773 1017.6L774 1016.6L775 1015.6L776 1014.5L777 1013.5L778 1012.4L779 1011.3L780 1010.2L781 1009.0L782 1007.9L783 1006.7L784 1005.5L785 1004.3L786 1003.0L787 1001.8L788 1000.5L789 999.2L790 997.9L791 996.5L792 995.1L793 993.7L794 992.3L795 990.9L796 989.4L797 988.0L798 986.5L799 985.0L800 983.4L801 981.9L802 980.3L803 978.7L804 977.1L805 975.5L806 973.9L807 972.3L808 970.6L809 968.9L810 967.3L811 965.6L812 963.9L813 962.1L814 960.4L815 958.7L816 956.9L817 955.2L818 953.4L819 951.6L820 949.9L821 948.1L822 946.3L823 944.5L824 942.7L825 940.8L826 939.0L827 937.2L828 935.4L829 933.5L830 931.7L831 929.9L832 928.0L833 926.2L834 924.3L835 922.5L836 920.6L837 918.7L838 916.9L839 915.0L840 913.1L841 911.2L842 909.3L843 907.3L844 905.4L845 903.4L846 901.5L847 899.5L848 897.5L849 895.5L850 893.5L851 891.4L852 889.3L853 887.3L854 885.2L855 883.1L856 880.9L857 878.8L858 876.6L859 874.4L860 872.2L861 869.9L862 867.7L863 865.4L864 863.1L865 860.7L866 858.4L867 856.0L868 853.6L869 851.1L870 848.7L871 846.2L872 843.7L873 841.2L874 838.6L875 836.1L876 833.5L877 830.9L878 828.3L879 825.7L880 823.1L881 820.5L882 817.8L883 815.2L884 812.5L885 809.8L886 807.2L887 804.5L888 801.8L889 799.2L890 796.5L891 793.8L892 791.2L893 788.5L894 785.8L895 783.2L896 780.5L897 777.9L898 775.3L899 772.7L900 770.1L901 767.5L902 764.9L903 762.3L904 759.8L905 757.3L906 754.8L907 752.3L908 749.8L909 747.3L910 744.9L911 742.4L912 740.0L913 737.6L914 735.2L915 732.8L916 730.4L917 728.1L918 725.7L919 723.4L920 721.0L921 718.7L922 716.4L923 714.1L924 711.8L925 709.5L926 707.3L927 705.0L928 702.7L929 700.5L930 698.2L931 696.0L932 693.8L933 691.6L934 689.3L935 687.1L936 684.9L937 682.7L938 680.5L939 678.4L940 676.2L941 674.0L942 671.8L943 669.6L944 667.5L945 665.3L946 663.2L947 661.0L948 658.9L949 656.7L950 654.6L951 652.5L952 650.4L953 648.3L954 646.2L955 644.2L956 642.1L957 640.1L958 638.1L959 636.0L960 634.0L961 632.1L962 630.1L963 628.2L964 626.2L965 624.3L966 622.4L967 620.5L968 618.7L969 616.9L970 615.0L971 613.3L972 611.5L973 609.7L974 608.0L975 606.3L976 604.7L977 603.0L978 601.4L979 599.8L980 598.2L981 596.7L982 595.2L983 593.7L984 592.2L985 590.8L986 589.4L987 588.0L988 586.6L989 585.3L990 584.0L991 582.7L992 581.4L993 580.2L994 579.0L995 577.8L996 576.7L997 575.6L998 574.5L999 573.4L1000 572.4L1001 571.4L1002 570.4L1003 569.4L1004 568.5L1005 567.6L1006 566.7L1007 565.8L1008 565.0L1009 564.2L1010 563.5L1011 562.7L1012 562.0L1013 561.3L1014 560.7L1015 560.0L1016 559.4L1017 558.8L1018 558.3L1019 557.8L1020 557.3L1021 556.8L1022 556.4L1023 556.0L1024 555.6L1025 555.2L1026 554.9L1027 554.6L1028 554.4L1029 554.1L1030 553.9L1031 553.8L1032 553.6L1033 553.5L1034 553.4L1035 553.4L1036 553.3L1037 553.3L1038 553.4L1039 553.5L1040 553.6L1041 553.7L1042 553.9L1043 554.1L1044 554.3L1045 554.6L1046 554.8L1047 555.2L1048 555.5L1049 555.9L1050 556.3L1051 556.8L1052 557.3L1053 557.8L1054 558.4L1055 559.0L1056 559.6L1057 560.2L1058 560.9L1059 561.6L1060 562.4L1061 563.2L1062 564.0L1063 564.8L1064 565.7L1065 566.6L1066 567.5L1067 568.5L1068 569.5L1069 570.5L1070 571.5L1071 572.6L1072 573.7L1073 574.9L1074 576.0L1075 577.2L1076 578.4L1077 579.7L1078 580.9L1079 582.2L1080 583.5L1081 584.9L1082 586.3L1083 587.7L1084 589.1L1085 590.5L1086 592.0L1087 593.5L1088 595.0L1089 596.6L1090 598.2L1091 599.8L1092 601.4L1093 603.0L1094 604.7L1095 606.4L1096 608.1L1097 609.8L1098 611.6L1099 613.4L1100 615.2L1101 617.0L1102 618.9L1103 620.7L1104 622.6L1105 624.6L1106 626.5L1107 628.4L1108 630.4L1109 632.4L1110 634.5L1111 636.5L1112 638.6L1113 640.7L1114 642.8L1115 644.9L1116 647.0L1117 649.2L1118 651.4L1119 653.6L1120 655.8L1121 658.1L1122 660.4L1123 662.6L1124 664.9L1125 667.3L1126 669.6L1127 672.0L1128 674.4L1129 676.8L1130 679.2L1131 681.6L1132 684.1L1133 686.6L1134 689.0L1135 691.6L1136 694.1L1137 696.6L1138 699.2L1139 701.8L1140 704.4L1141 707.0L1142 709.6L1143 712.3L1144 714.9L1145 717.6L1146 720.3L1147 723.1L1148 725.8L1149 728.5L1150 731.3L1151 734.1L1152 736.9L1153 739.7L1154 742.5L1155 745.4L1156 748.2L1157 751.1L1158 754.0L1159 756.9L1160 759.8L1161 762.8L1162 765.7L1163 768.7L1164 771.7L1165 774.7L1166 777.7L1167 780.7L1168 783.7L1169 786.8L1170 789.8L1171 792.9L1172 796.0L1173 799.0L1174 802.1L1175 805.2L1176 808.3L1177 811.4L1178 814.5L1179 817.6L1180 820.7L1181 823.8L1182 826.9L1183 830.0L1184 833.1L1185 836.2L1186 839.3L1187 842.3L1188 845.4L1189 848.5L1190 851.6L1191 854.6L1192 857.7L1193 860.7L1194 863.8L1195 866.8L1196 869.8L1197 872.8L1198 875.8L1199 878.7L1200 881.7L1201 884.6L1202 887.6L1203 890.5L1204 893.4L1205 896.2L1206 899.1L1207 902.0L1208 904.8L1209 907.6L1210 910.4L1211 913.2L1212 916.0L1213 918.8L1214 921.6L1215 924.3L1216 927.1L1217 929.8L1218 932.5L1219 935.2L1220 938.0L1221 940.6L1222 943.3L1223 946.0L1224 948.7L1225 951.3L1226 954.0L1227 956.6L1228 959.3L1229 961.9L1230 964.5L1231 967.1L1232 969.7L1233 972.3L1234 974.9L1235 977.5L1236 980.1L1237 982.7L1238 985.2L1239 987.8L1240 990.4L1241 992.9L1242 995.5L1243 998.0L1244 1000.6L1245 1003.1L1246 1005.6L1247 1008.1L1248 1010.6L1249 1013.1L1250 1015.6L1251 1018.0L1252 1020.5L1253 1022.9L1254 1025.4L1255 1027.8L1256 1030.2L1257 1032.6L1258 1035.0L1259 1037.3L1260 1039.7L1261 1042.0L1262 1044.3L1263 1046.6L1264 1048.9L1265 1051.2L1266 1053.5L1267 1055.7L1268 1057.9L1269 1060.1L1270 1062.3L1271 1064.4L1272 1066.6L1273 1068.7L1274 1070.8L1275 1072.9L1276 1074.9L1277 1077.0L1278 1079.0L1279 1081.0L1280 1082.9L1281 1084.9L1282 1086.8L1283 1088.7L1284 1090.6L1285 1092.5L1286 1094.3L1287 1096.1L1288 1097.9L1289 1099.7L1290 1101.4L1291 1103.1L1292 1104.8L1293 1106.5L1294 1108.1L1295 1109.8L1296 1111.4L1297 1113.0L1298 1114.5L1299 1116.0L1300 1117.5L1301 1119.0L1302 1120.5L1303 1121.9L1304 1123.3L1305 1124.7L1306 1126.1L1307 1127.4L1308 1128.7L1309 1130.0L1310 1131.2L1311 1132.5L1312 1133.7L1313 1134.9L1314 1136.0L1315 1137.1L1316 1138.2L1317 1139.3L1318 1140.4L1319 1141.4L1320 1142.4L1321 1143.4L1322 1144.3L1323 1145.3L1324 1146.2L1325 1147.1L1326 1147.9L1327 1148.8L1328 1149.6L1329 1150.3L1330 1151.1L1331 1151.8L1332 1152.6L1333 1153.3L1334 1153.9L1335 1154.6L1336 1155.2L1337 1155.8L1338 1156.4L1339 1156.9L1340 1157.5L1341 1158.0L1342 1158.5L1343 1158.9L1344 1159.4L1345 1159.8L1346 1160.2L1347 1160.6L1348 1160.9L1349 1161.3L1350 1161.6L1351 1161.9L1352 1162.2L1353 1162.4L1354 1162.7L1355 1162.9L1356 1163.1L1357 1163.3L1358 1163.5L1359 1163.6L1360 1163.8L1361 1163.9L1362 1164.0L1363 1164.1L1364 1164.2L1365 1164.3L1366 1164.4L1367 1164.4L1368 1164.5L1369 1164.5L1370 1164.5L1371 1164.5L1372 1164.5L1373 1164.5L1374 1164.5L1375 1164.5L1376 1164.5L1377 1164.5L1378 1164.5L1379 1164.5L1380 1164.5L1381 1164.5L1382 1164.5L1383 1164.5L1384 1164.5L1385 1164.5L1386 1164.5L1387 1164.5L1388 1164.5L1389 1164.5L1390 1164.5L1391 1164.5L1392 1164.4L1393 1164.4L1394 1164.4L1395 1164.4L1396 1164.4L1397 1164.4L1398 1164.4L1399 1164.4L1400 1164.4L1401 1164.4L1402 1164.4L1403 1164.4L1404 1164.4L1405 1164.5H1903.7" stroke="#008080" stroke-width="6.7"/>
</g>
<g class="t" text-anchor="end">
<text transform="translate(154 1301.6) scale(1 1.03)">-2</text>
<text transform="translate(154 1177.6) scale(1 1.03)">0</text>
<text transform="translate(154 1053.7) scale(1 1.03)">2</text>
<text transform="translate(154 929.8) scale(1 1.03)">4</text>
<text transform="translate(154 805.8) scale(1 1.03)">6</text>
<text transform="translate(154 681.9) scale(1 1.03)">8</text>
<text transform="translate(154 557.9) scale(1 1.03)">10</text>
<text transform="translate(154 434.0) scale(1 1.03)">12</text>
<text transform="translate(154 310.0) scale(1 1.03)">14</text>
<text transform="translate(154 186.0) scale(1 1.03)">16</text>
<text transform="translate(154 62.1) scale(1 1.03)">18</text>
</g>
<g class="t" text-anchor="middle">
<text transform="translate(741.2 1415.6) scale(1 1.03)">100</text>
<text transform="translate(1323.0 1415.6) scale(1 1.03)">1,000</text>
<text transform="translate(1904.7 1415.6) scale(1 1.03)">10,000</text>
</g>
<text class="ttl" text-anchor="end" x="1170.7" y="1520">Size(nm)</text>
<text class="ttl" style="letter-spacing:0.2px" transform="translate(72.9 806.4) rotate(-90)">Intensity</text>
<path shape-rendering="crispEdges" fill="#000" fill-rule="evenodd" d="M1529 61H1794V382H1529ZM1530 63V381H1792V63Z"/>
<g shape-rendering="crispEdges">
<path fill="#000" d="M1548 115H1549V114H1550V112H1691V113H1692V118H1691V119H1550V117H1549V116H1548Z"/>
<path fill="#f00" d="M1548 193H1549V192H1550V190H1691V191H1692V195H1691V196H1550V195H1549V194H1548Z"/>
<path fill="#00f" d="M1548 269H1549V268H1550V266H1691V267H1692V272H1691V273H1550V271H1549V270H1548Z"/>
<path fill="#008080" d="M1548 346H1549V345H1550V343H1691V344H1692V349H1691V350H1550V348H1549V347H1548Z"/>
</g>
<text class="t" x="1706.10" y="137">gel1</text>
<text class="t" x="1702.35" y="214.25">gel2</text>
<text class="t" x="1702.35" y="290">gel3</text>
<text class="t" x="1702.35" y="367">gel4</text>
</svg>
</body></html>
